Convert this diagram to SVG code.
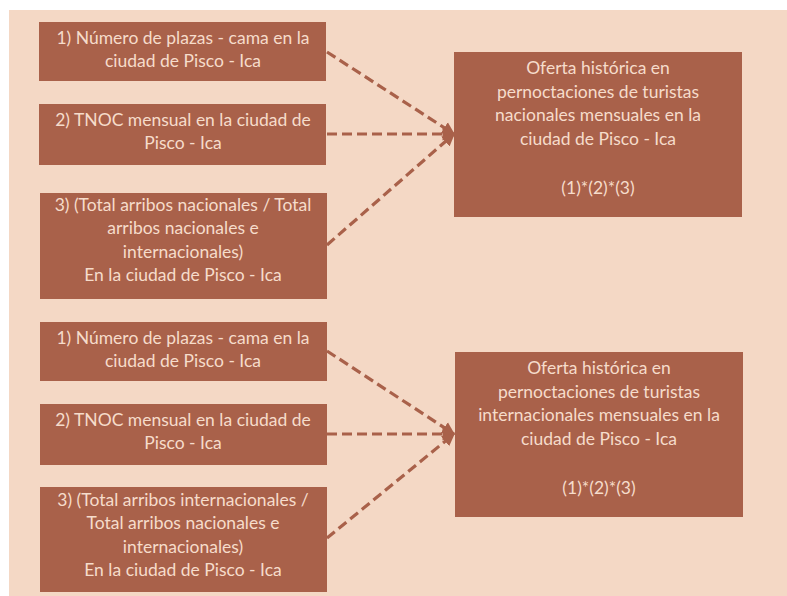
<svg xmlns="http://www.w3.org/2000/svg" width="787" height="596" viewBox="0 0 787 596">
<defs>
<style>
.box{fill:#a9614a}
.t{font-family:"Lato","Open Sans",sans-serif;font-size:17.5px;fill:#f6dccb;text-anchor:middle}
.c{fill:none;stroke:#a9614a;stroke-width:3.2;stroke-dasharray:10 5}
</style>
<marker id="ah" viewBox="0 0 10 10" refX="9" refY="5" markerWidth="4" markerHeight="4.5" orient="auto" markerUnits="strokeWidth">
<path d="M0,0 L10,5 L0,10 z" fill="#a9614a"/>
</marker>
</defs>
<rect x="0" y="0" width="787" height="596" fill="#ffffff"/>
<rect x="9" y="10" width="778" height="586" fill="#f4d8c5"/>
<g id="connectors">
<line class="c" x1="327" y1="52" x2="454" y2="134" marker-end="url(#ah)"/>
<line class="c" x1="327" y1="134" x2="454" y2="134" marker-end="url(#ah)"/>
<line class="c" x1="327" y1="245" x2="454" y2="134" marker-end="url(#ah)"/>
<line class="c" x1="327" y1="351" x2="454" y2="434" marker-end="url(#ah)"/>
<line class="c" x1="327" y1="434" x2="454" y2="434" marker-end="url(#ah)"/>
<line class="c" x1="327" y1="538" x2="454" y2="434" marker-end="url(#ah)"/>
</g>
<g id="n1">
<rect class="box" x="39" y="22" width="287" height="59"/>
<text class="t" x="183" y="44">1) Número de plazas - cama en la</text>
<text class="t" x="183" y="67">ciudad de Pisco - Ica</text>
</g>
<g id="n2">
<rect class="box" x="39" y="104" width="287" height="61"/>
<text class="t" x="183" y="126">2) TNOC mensual en la ciudad de</text>
<text class="t" x="183" y="149">Pisco - Ica</text>
</g>
<g id="n3">
<rect class="box" x="40" y="193" width="287" height="106"/>
<text class="t" x="183" y="211">3) (Total arribos nacionales / Total</text>
<text class="t" x="183" y="234">arribos nacionales e</text>
<text class="t" x="183" y="258">internacionales)</text>
<text class="t" x="183" y="281">En la ciudad de Pisco - Ica</text>
</g>
<g id="n4">
<rect class="box" x="454" y="52" width="288" height="165"/>
<text class="t" x="598" y="74">Oferta histórica en</text>
<text class="t" x="598" y="98">pernoctaciones de turistas</text>
<text class="t" x="598" y="121">nacionales mensuales en la</text>
<text class="t" x="598" y="145">ciudad de Pisco - Ica</text>
<text class="t" x="598" y="194">(1)*(2)*(3)</text>
</g>
<g id="n5">
<rect class="box" x="40" y="322" width="287" height="59"/>
<text class="t" x="183" y="344">1) Número de plazas - cama en la</text>
<text class="t" x="183" y="367">ciudad de Pisco - Ica</text>
</g>
<g id="n6">
<rect class="box" x="40" y="404" width="287" height="61"/>
<text class="t" x="183" y="426">2) TNOC mensual en la ciudad de</text>
<text class="t" x="183" y="449">Pisco - Ica</text>
</g>
<g id="n7">
<rect class="box" x="40" y="487" width="287" height="105"/>
<text class="t" x="183" y="506">3) (Total arribos internacionales /</text>
<text class="t" x="183" y="529">Total arribos nacionales e</text>
<text class="t" x="183" y="553">internacionales)</text>
<text class="t" x="183" y="576">En la ciudad de Pisco - Ica</text>
</g>
<g id="n8">
<rect class="box" x="455" y="352" width="288" height="165"/>
<text class="t" x="599" y="374">Oferta histórica en</text>
<text class="t" x="599" y="398">pernoctaciones de turistas</text>
<text class="t" x="599" y="421">internacionales mensuales en la</text>
<text class="t" x="599" y="445">ciudad de Pisco - Ica</text>
<text class="t" x="599" y="494">(1)*(2)*(3)</text>
</g>
</svg>
